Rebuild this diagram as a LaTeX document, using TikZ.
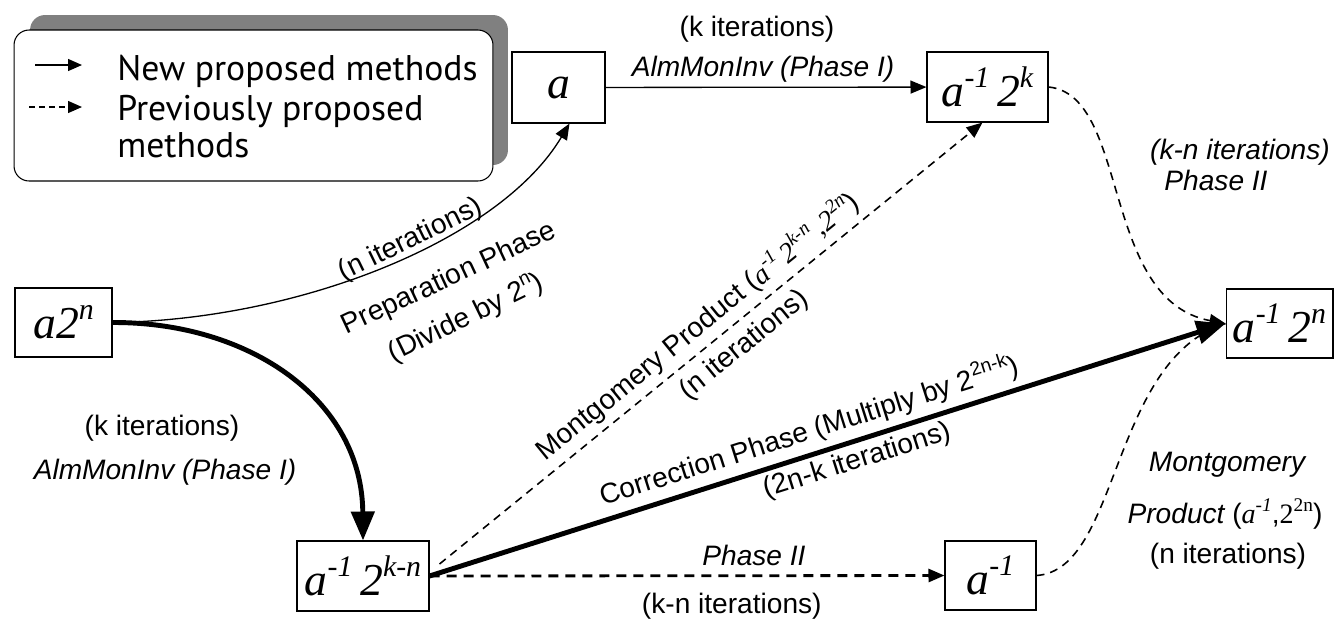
\documentclass[tikz,border=0pt]{standalone}
\usepackage{fontspec}
\setmainfont{Liberation Sans}
\newfontfamily\legendfont{PT Sans}
\newfontfamily\tms{Liberation Serif}
\newcommand{\bsup}[1]{\raisebox{0.42em}{\fontsize{17}{17}\selectfont #1}}
\newcommand{\lsup}[1]{\raisebox{0.4em}{\fontsize{11}{11}\selectfont #1}}
\usetikzlibrary{arrows.meta,calc}
\begin{document}
\begin{tikzpicture}[x=0.02cm,y=-0.02cm,
  box/.style={draw,line width=0.6pt,inner sep=0pt,font=\tms\itshape\fontsize{26}{30}\selectfont},
  lbl/.style={inner sep=0pt,font=\fontsize{16}{19}\selectfont},
  ilbl/.style={inner sep=0pt,font=\fontsize{16}{19}\selectfont\itshape},
  legtext/.style={anchor=base west,inner sep=0pt,font=\legendfont\fontsize{20.3}{24}\selectfont},
  solidarr/.style={line width=0.75pt,-{Triangle[length=0.32cm,width=0.26cm]}},
  boldarr/.style={line width=2.8pt,-{Triangle[length=0.58cm,width=0.46cm]}},
  dashline/.style={line width=0.9pt,dash pattern=on 0.16cm off 0.12cm},
  dasharr/.style={dashline,-{Triangle[length=0.32cm,width=0.26cm]}},
]
\useasboundingbox (0,0) rectangle (1335,620);

% legend
\node[fill=gray,rounded corners=0.3cm,minimum width=9.56cm,minimum height=3.0cm,inner sep=0pt] (legshadow) at (269,90) {};
\node[draw,fill=white,line width=0.6pt,rounded corners=0.3cm,minimum width=9.58cm,minimum height=3.02cm,inner sep=0pt] (legend) at (253.5,105.5) {};
\coordinate (l1s) at (35,65);
\coordinate (l1e) at (82,65);
\coordinate (l2s) at (29,107);
\coordinate (l2e) at (82,107);
\draw[line width=0.75pt,-{Triangle[length=0.28cm,width=0.24cm]}] (l1s) -- (l1e);
\draw[line width=0.75pt,dash pattern=on 0.12cm off 0.08cm,-{Triangle[length=0.28cm,width=0.24cm]}] (l2s) -- (l2e);
\node[legtext] (lt1) at (117,80) {New proposed methods};
\node[legtext] (lt2) at (117,120) {Previously proposed};
\node[legtext] (lt3) at (117,157) {methods};

% boxes
\node[box,minimum width=1.94cm,minimum height=1.38cm] (a2n) at (63.5,322.5) {a2\bsup{n}};
\node[box,minimum width=1.86cm,minimum height=1.42cm] (a) at (558.5,87.5) {a};
\node[box,minimum width=2.42cm,minimum height=1.40cm] (a12k) at (987.5,87) {a\bsup{-1}\,2\bsup{k}};
\node[box,minimum width=2.14cm,minimum height=1.38cm] (a12n) at (1279.5,323.5) {a\bsup{-1}\,2\bsup{n}};
\node[box,minimum width=2.64cm,minimum height=1.40cm] (a12kn) at (363,576) {a\bsup{-1}\,2\bsup{k-n}};
\node[box,minimum width=1.82cm,minimum height=1.38cm] (a1) at (990.5,575.5) {a\bsup{-1}};

% a -> a^{-1}2^k
\draw[solidarr] (a) -- (a12k);
\node[lbl] (t1) at (757,29) {(k iterations)};
\node[ilbl] (t2) at (763,69) {AlmMonInv (Phase I)};

% a2^n -> a (preparation)
\draw[solidarr] (a2n.east) .. controls (300,320) and (500,240) .. ([xshift=0.22cm]a.south);
\node[lbl,rotate=26] (t3) at (411,240) {(n iterations)};
\node[lbl,rotate=25] (t4) at (449,279) {Preparation Phase};
\node[lbl,rotate=26] (t5) at (466,318) {(Divide by 2\lsup{n})};

% a2^n -> a^{-1}2^{k-n}
\draw[boldarr] (a2n.east) .. controls (250,322) and (362,400) .. (a12kn.north);
\node[lbl] (t6) at (162,428) {(k iterations)};
\node[ilbl] (t7) at (165,472) {AlmMonInv (Phase I)};

% a^{-1}2^{k-n} -> a^{-1}2^{k}
\draw[dasharr] ([xshift=0.2cm,yshift=0.24cm]a12kn.east) -- ([xshift=-0.1cm]a12k.south)
  node[lbl,pos=0.5,sloped,above=3.5pt] (t8) {Montgomery Product ({\tms\itshape a\lsup{-1}\,2\lsup{k-n}\,,2\lsup{2n}})}
  node[lbl,pos=0.535,sloped,below=5pt] (t9) {(n iterations)};

% a^{-1}2^{k-n} -> a^{-1}
\draw[dashline,line width=1.6pt,dash pattern=on 0.2cm off 0.14cm,-{Triangle[length=0.32cm,width=0.26cm]}] (a12kn.east) -- (a1.west)
  node[ilbl,pos=0.63,above=5pt] (t10) {Phase II}
  node[lbl,pos=0.587,below=9pt] (t11) {(k-n iterations)};

% a^{-1}2^k -> a^{-1}2^n
\draw[dasharr] (a12k.east) .. controls (1130,95) and (1100,300) .. (a12n.west);
\node[ilbl] (t12) at (1240,152) {(k-n iterations)};
\node[ilbl] (t13) at (1216,180) {Phase II};

% a^{-1} -> a^{-1}2^n
\draw[dashline] (a1.east) .. controls (1120,570) and (1110,360) .. (a12n.west);
\node[ilbl] (t14) at (1227,465) {Montgomery};
\node[lbl] (t15) at (1225,514) {\itshape Product \upshape({\tms\itshape a\lsup{-1}},{\tms 2\lsup{2n}})};
\node[lbl] (t16) at (1228,556) {(n iterations)};

% correction
\draw[boldarr] (a12kn.east) -- (a12n.west)
  node[lbl,pos=0.486,sloped,above=3.5pt] (t17) {Correction Phase (Multiply by 2\lsup{2n-k})}
  node[lbl,pos=0.53,sloped,below=2.5pt] (t18) {(2n-k iterations)};
\end{tikzpicture}
\end{document}
